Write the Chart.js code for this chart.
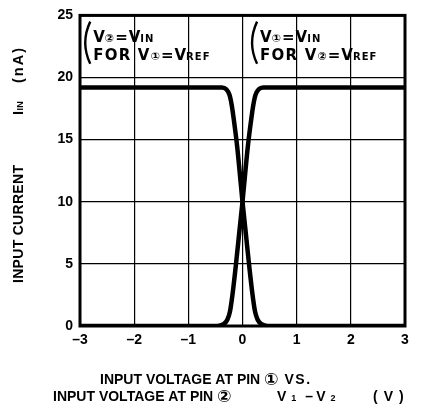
<!DOCTYPE html>
<html>
<head>
<meta charset="utf-8">
<script src="https://cdn.jsdelivr.net/npm/chart.js@4.4.1/dist/chart.umd.min.js"></script>
<style>
  html, body { margin: 0; padding: 0; background: #fff; }
  #wrap { width: 421px; height: 410px; }
</style>
</head>
<body>
<div id="wrap"><canvas id="chart" width="421" height="410"></canvas></div>
<script>
// axis ticks
const xTicks = [-3, -2, -1, 0, 1, 2, 3];
const xTickLabels = ['\u20133', '\u20132', '\u20131', '0', '1', '2', '3'];
const yTicks = [0, 5, 10, 15, 20, 25];

// V2 = VIN (for V1 = VREF): high on the left, drops through zero
const curveV2x = [-3, -0.38, -0.3, -0.24, -0.2, -0.16, -0.1, 0, 0.06, 0.12, 0.18, 0.23, 0.28, 0.35, 0.47, 3];
const curveV2y = [19.2, 19.2, 19.05, 18.6, 17.8, 16.6, 14.5, 10, 7.5, 5, 2.7, 1.2, 0.5, 0.15, 0, 0];

// V1 = VIN (for V2 = VREF): low on the left, rises through zero
const curveV1x = [-3, -0.47, -0.35, -0.28, -0.23, -0.18, -0.12, -0.06, 0, 0.1, 0.16, 0.2, 0.24, 0.3, 0.38, 3];
const curveV1y = [0, 0, 0.15, 0.5, 1.2, 2.7, 5, 7.5, 10, 14.5, 16.6, 17.8, 18.6, 19.05, 19.2, 19.2];

const FONT = '"Liberation Sans", Arial, "DejaVu Sans", sans-serif';
const WIDE = '"DejaVu Sans", "Liberation Sans", sans-serif';

function pts(xs, ys) { return xs.map((x, i) => ({ x: x, y: ys[i] })); }

// draw a run of text pieces: [text, size, dy, gapAfter, letterSpacing, family]
function drawRun(ctx, x, y, parts) {
  let cx = x;
  parts.forEach(p => {
    ctx.font = 'bold ' + p[1] + 'px ' + (p[5] || FONT);
    ctx.letterSpacing = (p[4] || 0) + 'px';
    ctx.fillText(p[0], cx, y + (p[2] || 0));
    cx += ctx.measureText(p[0]).width + (p[3] || 0);
  });
  ctx.letterSpacing = '0px';
  return cx;
}

function paren(ctx, x, top, bottom) {
  ctx.beginPath();
  ctx.moveTo(x + 7, top);
  ctx.quadraticCurveTo(x - 3, (top + bottom) / 2, x + 7, bottom);
  ctx.lineWidth = 2.4;
  ctx.strokeStyle = '#000';
  ctx.stroke();
}

const decor = {
  id: 'decor',
  afterDatasetsDraw(chart) {
    const ctx = chart.ctx, a = chart.chartArea;
    const xs = chart.scales.x, ys = chart.scales.y;
    ctx.save();
    ctx.fillStyle = '#000';
    ctx.textBaseline = 'alphabetic';
    ctx.textAlign = 'left';

    // frame
    ctx.lineWidth = 3;
    ctx.strokeStyle = '#000';
    ctx.strokeRect(a.left, a.top, a.right - a.left, a.bottom - a.top);

    // annotations
    const y1 = ys.getPixelForValue(22.85), y2 = ys.getPixelForValue(21.4);
    const pTop = ys.getPixelForValue(24.5), pBot = ys.getPixelForValue(21.1);
    const lx = xs.getPixelForValue(-2.94), rx = xs.getPixelForValue(0.14);
    paren(ctx, lx, pTop, pBot);
    paren(ctx, rx, pTop, pBot);
    const M = 15, S = 10;
    const line1 = (c1) => [['V', M, 0, 0, 0, WIDE], [c1, S + 1, 0, 1, 0, WIDE], ['=', M, 0, 1, 0, WIDE], ['V', M, 0, 0, 0, WIDE], ['IN', S, 0, 0, 1, WIDE]];
    const line2 = (c2) => [['FOR V', M, 0, 0, 1.2, WIDE], [c2, S + 1, 0, 1, 0, WIDE], ['=', M, 0, 1, 0, WIDE], ['V', M, 0, 0, 0, WIDE], ['REF', S, 0, 0, 1, WIDE]];
    drawRun(ctx, lx + 10, y1, line1('\u2461'));
    drawRun(ctx, lx + 10, y2, line2('\u2460'));
    drawRun(ctx, rx + 10, y1, line1('\u2460'));
    drawRun(ctx, rx + 10, y2, line2('\u2461'));

    // x axis title (two lines)
    const b1 = a.bottom + 58, b2 = a.bottom + 75;
    drawRun(ctx, a.left + 20, b1, [['INPUT VOLTAGE AT PIN ', 14], ['\u2460', 17, 1, 6, 0, WIDE], ['VS.', 14, 0, 0, 1.5]]);
    drawRun(ctx, a.left - 27, b2, [['INPUT VOLTAGE AT PIN ', 14], ['\u2461', 17, 1, 0, 0, WIDE]]);
    drawRun(ctx, a.left + 197, b2, [['V', 14, 0, 5], ['1', 9, 0, 9], ['\u2013', 14, 0, 3], ['V', 14, 0, 5], ['2', 9, 0, 0]]);
    drawRun(ctx, a.left + 293, b2, [['(V)', 14, 0, 0, 6]]);

    // y axis title, rotated
    ctx.translate(23, 0);
    ctx.rotate(-Math.PI / 2);
    drawRun(ctx, -(a.bottom - 43), 0, [['INPUT CURRENT', 14, 0, 0, 0.3]]);
    drawRun(ctx, -(a.bottom - 211), 0, [['I', 14.5, 0, 0.5], ['IN', 9, 0, 0, 0.3]]);
    drawRun(ctx, -(a.bottom - 243), 0, [['(nA)', 14.5, 0, 0, 2]]);
    ctx.restore();
  }
};

const lineStyle = {
  borderColor: '#000',
  borderWidth: 4.5,
  pointRadius: 0,
  fill: false,
  cubicInterpolationMode: 'monotone'
};

new Chart(document.getElementById('chart').getContext('2d'), {
  type: 'line',
  data: {
    datasets: [
      Object.assign({ label: 'V2 = VIN', data: pts(curveV2x, curveV2y) }, lineStyle),
      Object.assign({ label: 'V1 = VIN', data: pts(curveV1x, curveV1y) }, lineStyle)
    ]
  },
  options: {
    responsive: false,
    animation: false,
    layout: { padding: { left: 0, right: 16, top: 13, bottom: 0 } },
    plugins: { legend: { display: false }, tooltip: { enabled: false } },
    scales: {
      x: {
        type: 'linear', min: -3, max: 3,
        afterBuildTicks: s => { s.ticks = xTicks.map(v => ({ value: v })); },
        afterFit: s => { s.height = 84; },
        ticks: {
          color: '#000', padding: 6,
          font: { family: FONT, size: 14, weight: 'bold' },
          callback: (v) => xTickLabels[xTicks.indexOf(v)]
        },
        grid: { color: '#000', lineWidth: 1.2, drawTicks: false },
        border: { display: false }
      },
      y: {
        min: 0, max: 25,
        afterBuildTicks: s => { s.ticks = yTicks.map(v => ({ value: v })); },
        afterFit: s => { s.width = 80; },
        ticks: {
          color: '#000', padding: 7,
          font: { family: FONT, size: 14, weight: 'bold' }
        },
        grid: { color: '#000', lineWidth: 1.2, drawTicks: false },
        border: { display: false }
      }
    }
  },
  plugins: [decor]
});
</script>
</body>
</html>
